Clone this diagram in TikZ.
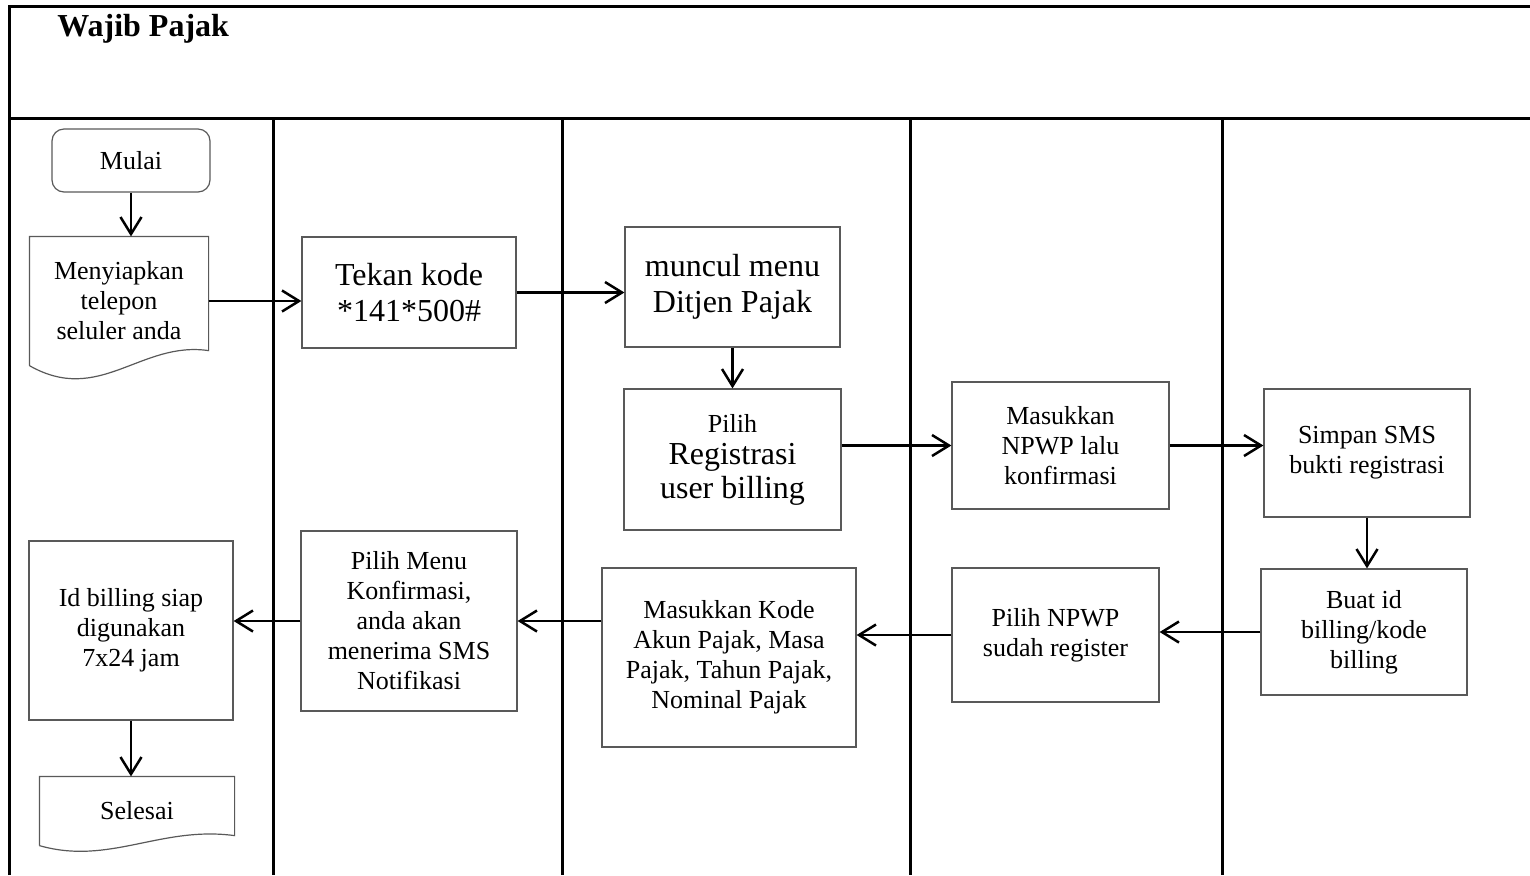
\documentclass[tikz,border=0pt]{standalone}
\usepackage{fontspec}
\setmainfont{Liberation Serif}
\usepackage{tikz}
\usetikzlibrary{arrows.meta,calc}

\begin{document}
\begin{tikzpicture}[x=0.5pt,y=-0.5pt,
        lajur/.style={line width=1.5pt},
        kotak/.style={draw=black!65,line width=0.6pt,align=center,inner sep=2pt,
                      font=\fontsize{13}{15}\selectfont},
        besar/.style={font=\fontsize{16}{18}\selectfont},
        dok/.style={kotak,draw=none},
        garis/.style={draw=black!65,line width=0.6pt},
        ar/.style={-{Straight Barb[length=8.5pt,width=10.5pt]},line width=1.25pt}]

        \useasboundingbox (0,0) rectangle (1530,875);

        % lajur
        \draw[lajur] (9,875) -- (9,6) -- (1530,6);
        \draw[lajur] (9,118) -- (1530,118);
        \foreach \x in {273,562,910,1222}{
          \draw[lajur] (\x,118) -- (\x,875);
        }
        \node[font=\fontsize{16}{18}\selectfont\bfseries,anchor=base west,inner sep=0pt] (judul) at (57,36) {Wajib Pajak};

        \node[kotak,rounded corners=6pt,minimum width=79pt,minimum height=31.5pt] (mulai) at (131,160.5) {Mulai};
        \node[dok,minimum width=89pt,minimum height=64pt] (siap) at (119,301) {Menyiapkan\\telepon\\seluler anda};
        \node[kotak,besar,minimum width=107pt,minimum height=55.5pt] (tekan) at (409,292.5) {Tekan kode\\*141*500\#};
        \node[kotak,besar,minimum width=107.5pt,minimum height=60pt] (muncul) at (732.5,287) {muncul menu\\Ditjen Pajak};
        \node[kotak,minimum width=108.5pt,minimum height=70.5pt] (regis) at (732.5,459.5)
             {Pilih\\[1pt]{\fontsize{16}{18}\selectfont Registrasi}\\[2pt]{\fontsize{16}{18}\selectfont user billing}};
        \node[kotak,minimum width=108.5pt,minimum height=63.5pt] (npwp) at (1060.5,445.5) {Masukkan\\NPWP lalu\\konfirmasi};
        \node[kotak,minimum width=103pt,minimum height=64pt] (simpan) at (1367,453) {Simpan SMS\\bukti registrasi};
        \node[kotak,minimum width=103pt,minimum height=63pt] (buat) at (1364,632) {Buat id\\billing/kode\\billing};
        \node[kotak,minimum width=103.5pt,minimum height=67pt] (pilnpwp) at (1055.5,635) {Pilih NPWP\\sudah register};
        \node[kotak,minimum width=127pt,minimum height=89.5pt] (kode) at (729,657.5)
             {Masukkan Kode\\Akun Pajak, Masa\\Pajak, Tahun Pajak,\\Nominal Pajak};
        \node[kotak,minimum width=108pt,minimum height=90pt] (menu) at (409,621)
             {Pilih Menu\\Konfirmasi,\\anda akan\\menerima SMS\\Notifikasi};
        \node[kotak,minimum width=102pt,minimum height=89.5pt] (idb) at (131,630.5) {Id billing siap\\digunakan\\7x24 jam};
        \node[dok,minimum width=97pt,minimum height=34pt] (selesai) at (137,811) {Selesai};

        % bentuk dokumen
        \draw[garis] (siap.south west) -- (siap.north west) -- (siap.north east)
          -- ([yshift=7.5pt]siap.south east)
          .. controls ([xshift=-34pt,yshift=12.5pt]siap.south east)
          and ([xshift=35pt,yshift=-20pt]siap.south west) .. (siap.south west);
        \draw[garis] (selesai.south west) -- (selesai.north west) -- (selesai.north east)
          -- ([yshift=5pt]selesai.south east)
          .. controls ([xshift=-37pt,yshift=10pt]selesai.south east)
          and ([xshift=35pt,yshift=-10pt]selesai.south west) .. (selesai.south west);

        \foreach \a/\b in {mulai/siap,muncul/regis,simpan/buat,idb/selesai}{
          \draw[ar] (\a.south) -- (\a.south |- \b.north);
        }
        \foreach \a/\b in {siap/tekan,tekan/muncul,npwp/simpan}{
          \draw[ar] (\a.east) -- (\a.east -| \b.west);
        }
        \foreach \a/\b in {buat/pilnpwp,pilnpwp/kode,menu/idb}{
          \draw[ar] (\a.west) -- (\a.west -| \b.east);
        }
        \draw[ar] (npwp.west -| regis.east) -- (npwp.west);
        \draw[ar] (menu.east -| kode.west) -- (menu.east);
      \end{tikzpicture}
\end{document}
